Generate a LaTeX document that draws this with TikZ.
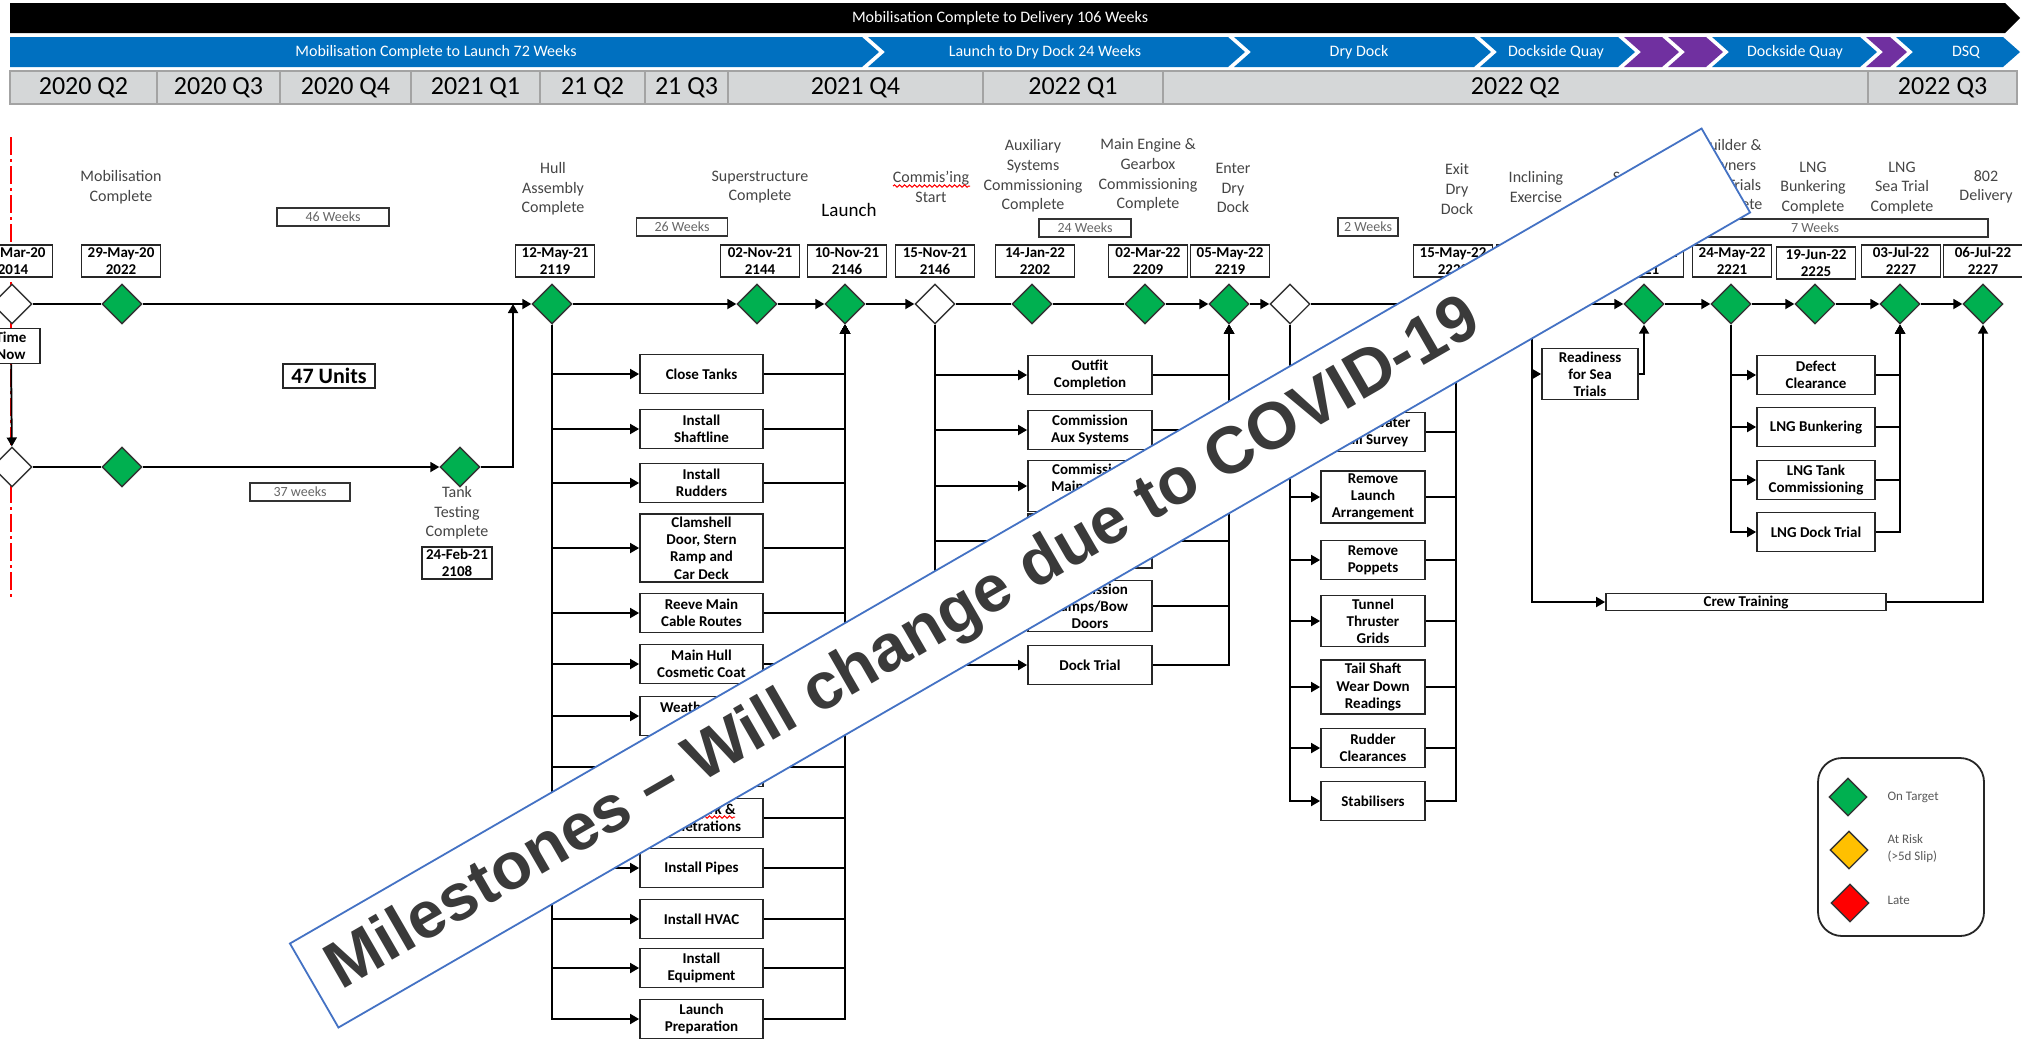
\documentclass[tikz,border=0pt]{standalone}
\usepackage{fontspec}
\setmainfont{Carlito}
\newfontfamily\bannerfont{Liberation Sans}
\usetikzlibrary{shapes.geometric, arrows.meta, decorations.pathmorphing}

\definecolor{msgreen}{HTML}{00B050}
\definecolor{riskamber}{HTML}{FFC000}
\definecolor{latered}{HTML}{FF0000}
\definecolor{barblue}{HTML}{0070C0}
\definecolor{barpurple}{HTML}{7030A0}
\definecolor{qgray}{HTML}{D5D7D8}
\definecolor{qline}{HTML}{A3A3A3}
\definecolor{labgray}{HTML}{454545}
\definecolor{bannerblue}{HTML}{4472C4}
\definecolor{bannertext}{HTML}{3A3A3A}

\begin{document}
\begin{tikzpicture}[x=0.5pt, y=-0.5pt, line width=0.9pt,
  >={Triangle[length=4.5pt,width=5pt]},
  ms/.style={diamond, draw=black!80, line width=0.7pt, fill=msgreen, minimum width=20pt, minimum height=20pt, inner sep=0pt},
  msopen/.style={ms, fill=white},
  datebox/.style={draw=black!85, fill=white, line width=0.9pt, align=center, minimum width=39.5pt, minimum height=16pt, inner sep=0.5pt, font=\bfseries\fontsize{7.5}{8.4}\selectfont},
  mlabel/.style={align=center, text=labgray, font=\fontsize{8}{9.8}\selectfont},
  weeks/.style={draw=black!80, fill=white, line width=0.7pt, text=black!60, minimum height=9pt, inner sep=0pt, font=\fontsize{7}{7}\selectfont},
  task/.style={draw=black!85, fill=white, line width=0.9pt, align=center, minimum height=19.5pt, inner sep=1.5pt, font=\bfseries\fontsize{7.5}{8.6}\selectfont},
  hulltask/.style={task, minimum width=61.5pt},
  comtask/.style={task, minimum width=62pt},
  docktask/.style={task, minimum width=52pt},
  lngtask/.style={task, minimum width=59pt},
  qcell/.style={draw=qline, fill=qgray, line width=0.8pt, minimum height=16.5pt, inner sep=0pt, font=\fontsize{13}{13}\selectfont},
  bartext/.style={text=white, inner sep=0pt, font=\fontsize{8}{8}\selectfont},
  legtext/.style={anchor=west, align=left, text=black!65, font=\fontsize{6.5}{8.5}\selectfont},
  timenow/.style={red, line width=0.8pt, dash pattern=on 9pt off 2pt on 1.5pt off 2pt},
  squiggle/.style={red, line width=0.5pt, decorate, decoration={snake, amplitude=0.6pt, segment length=2.5pt}},
  banner/.style={draw=bannerblue, fill=white, line width=0.9pt, rotate=30, minimum width=815pt, minimum height=48.5pt, inner sep=0pt},
  bannertxt/.style={anchor=west, rotate=30, inner sep=0pt, text=bannertext, font=\bannerfont\bfseries\fontsize{33}{33}\selectfont}]

\useasboundingbox (0,0) rectangle (2022,1040);
\clip (0,0) rectangle (2022,1040);
\fill[white] (0,0) rectangle (2022,1040);

\fill[black] (10,3) -- (2005,3) -- (2020,18) -- (2005,33) -- (10,33) -- cycle;
\node[bartext] (hdr) at (1000,18) {Mobilisation Complete to Delivery 106 Weeks};

\fill[barblue] (10,37) -- (862,37) -- (879,52) -- (862,67) -- (10,67) -- cycle;
\fill[barblue] (868,37) -- (1228,37) -- (1245,52) -- (1228,67) -- (868,67) -- (885,52) -- cycle;
\fill[barblue] (1234,37) -- (1474,37) -- (1491,52) -- (1474,67) -- (1234,67) -- (1251,52) -- cycle;
\fill[barblue] (1480,37) -- (1618,37) -- (1635,52) -- (1618,67) -- (1480,67) -- (1497,52) -- cycle;
\fill[barpurple] (1624,37) -- (1662,37) -- (1679,52) -- (1662,67) -- (1624,67) -- (1641,52) -- cycle;
\fill[barpurple] (1668,37) -- (1706,37) -- (1723,52) -- (1706,67) -- (1668,67) -- (1685,52) -- cycle;
\fill[barblue] (1712,37) -- (1860,37) -- (1877,52) -- (1860,67) -- (1712,67) -- (1729,52) -- cycle;
\fill[barpurple] (1866,37) -- (1890,37) -- (1907,52) -- (1890,67) -- (1866,67) -- (1883,52) -- cycle;
\fill[barblue] (1896,37) -- (2003,37) -- (2020,52) -- (2003,67) -- (1896,67) -- (1913,52) -- cycle;
\node[bartext] (s1) at (436,52) {Mobilisation Complete to Launch 72 Weeks};
\node[bartext] (s2) at (1045,52) {Launch to Dry Dock 24 Weeks};
\node[bartext] (s3) at (1359,52) {Dry Dock};
\node[bartext] (s4) at (1556,52) {Dockside Quay};
\node[bartext] (s5) at (1795,52) {Dockside Quay};
\node[bartext] (s6) at (1966,52) {DSQ};

\node[qcell, minimum width=73.5pt] (q1) at (83.5,87.5) {2020 Q2};
\node[qcell, minimum width=61.5pt] (q2) at (218.5,87.5) {2020 Q3};
\node[qcell, minimum width=65.5pt] (q3) at (345.5,87.5) {2020 Q4};
\node[qcell, minimum width=64.5pt] (q4) at (475.5,87.5) {2021 Q1};
\node[qcell, minimum width=52.5pt] (q5) at (592.5,87.5) {21 Q2};
\node[qcell, minimum width=41.5pt] (q6) at (686.5,87.5) {21 Q3};
\node[qcell, minimum width=127.5pt] (q7) at (855.5,87.5) {2021 Q4};
\node[qcell, minimum width=90pt] (q8) at (1073,87.5) {2022 Q1};
\node[qcell, minimum width=352.5pt] (q9) at (1515.5,87.5) {2022 Q2};
\node[qcell, minimum width=74.5pt] (q10) at (1942.5,87.5) {2022 Q3};

\coordinate (tn1) at (11,137);
\coordinate (tn2) at (11,600);
\draw[timenow] (tn1) -- (tn2);

\node[mlabel] (n1) at (121,187) {Mobilisation\\Complete};
\node[mlabel] (n2) at (553,189) {Hull\\Assembly\\Complete};
\node[mlabel] (n3) at (760,187) {Superstructure\\Complete};
\node[mlabel, text=black, font=\fontsize{9.5}{9.5}\selectfont] (n4) at (849,210) {Launch};
\node[mlabel] (n5) at (931,187) {Commis'ing\\Start};
\node[mlabel] (n6) at (1033,176) {Auxiliary\\Systems\\Commissioning\\Complete};
\node[mlabel] (n7) at (1148,175) {Main Engine \&\\Gearbox\\Commissioning\\Complete};
\node[mlabel] (n8) at (1233,188) {Enter\\Dry\\Dock};
\node[mlabel] (n10) at (1457,189) {Exit\\Dry\\Dock};
\node[mlabel] (n11) at (1536,187) {Inclining\\Exercise};
\node[mlabel] (n12) at (1643,187) {Sea Trials\\Start};
\node[mlabel] (n13) at (1731,176) {Builder \&\\Owners\\Sea Trials\\Complete};
\node[mlabel] (n14) at (1813,188) {LNG\\Bunkering\\Complete};
\node[mlabel] (n15) at (1902,188) {LNG\\Sea Trial\\Complete};
\node[mlabel] (n16) at (1986,187) {802\\Delivery};
\node[mlabel] (nt) at (457,513) {Tank\\Testing\\Complete};
\draw[squiggle] (893,186) -- (970,186);

\node[weeks, minimum width=56pt] (w46) at (333,217) {46 Weeks};
\node[weeks, minimum width=50pt] (w37) at (300,492) {37 weeks};
\node[weeks, minimum width=45.5pt] (w26) at (682,227) {26 Weeks};
\node[weeks, minimum width=46pt] (w24) at (1085,228) {24 Weeks};
\node[weeks, minimum width=30pt] (w2) at (1368,227) {2 Weeks};
\node[weeks, minimum width=173pt] (w7) at (1815,228) {7 Weeks};
\node[draw=black!85, line width=0.8pt, minimum width=46pt, minimum height=12pt, inner sep=0pt, font=\bfseries\fontsize{11}{11}\selectfont] (units) at (329,376) {47 Units};

\node[datebox] (b0) at (13,261) {30-Mar-20\\2014};
\node[datebox] (b1) at (121,261) {29-May-20\\2022};
\node[datebox] (b2) at (555,261) {12-May-21\\2119};
\node[datebox] (b3) at (760,261) {02-Nov-21\\2144};
\node[datebox] (b4) at (847,261) {10-Nov-21\\2146};
\node[datebox] (b5) at (935,261) {15-Nov-21\\2146};
\node[datebox] (b6) at (1035,261) {14-Jan-22\\2202};
\node[datebox] (b7) at (1148,261) {02-Mar-22\\2209};
\node[datebox] (b8) at (1230,261) {05-May-22\\2219};
\node[datebox] (b10) at (1453,261) {15-May-22\\2220};
\node[datebox] (b11) at (1536,261) {18-May-22\\2220};
\node[datebox] (b12) at (1644,261) {20-May-22\\2221};
\node[datebox] (b13) at (1732,261) {24-May-22\\2221};
\node[datebox] (b14) at (1816,263) {19-Jun-22\\2225};
\node[datebox] (b15) at (1901,261) {03-Jul-22\\2227};
\node[datebox] (b16) at (1983,261) {06-Jul-22\\2227};
\node[datebox, minimum width=35pt] (bt) at (457,563) {24-Feb-21\\2108};
\node[datebox, minimum width=29pt, minimum height=17.5pt] (now) at (11,346) {Time\\Now};

\node[msopen] (m0) at (12,304) {};
\node[ms] (m1) at (122,304) {};
\node[ms] (m2) at (552,304) {};
\node[ms] (m3) at (757,304) {};
\node[ms] (m4) at (845,304) {};
\node[msopen] (m5) at (935,304) {};
\node[ms] (m6) at (1032,304) {};
\node[ms] (m7) at (1145,304) {};
\node[ms] (m8) at (1229,304) {};
\node[msopen] (m9) at (1290,304) {};
\node[ms] (m10) at (1456,304) {};
\node[ms] (m11) at (1532,304) {};
\node[ms] (m12) at (1644,304) {};
\node[ms] (m13) at (1731,304) {};
\node[ms] (m14) at (1815,304) {};
\node[ms] (m15) at (1900,304) {};
\node[ms] (m16) at (1983,304) {};
\node[msopen] (l0) at (12,467) {};
\node[ms] (l1) at (122,467) {};
\node[ms] (l2) at (460,467) {};
\coordinate (j1) at (513,304);

\node[hulltask] (t1) at (701.5,374) {Close Tanks};
\node[hulltask] (t2) at (701.5,429) {Install\\Shaftline};
\node[hulltask] (t3) at (701.5,483) {Install\\Rudders};
\node[hulltask] (t4) at (701.5,548) {Clamshell\\Door, Stern\\Ramp and\\Car Deck};
\node[hulltask] (t5) at (701.5,613) {Reeve Main\\Cable Routes};
\node[hulltask] (t6) at (701.5,664) {Main Hull\\Cosmetic Coat};
\node[hulltask] (t7) at (701.5,716) {Weathertight\\Closures};
\node[hulltask] (t8) at (701.5,767) {Install\\Insulation};
\node[hulltask] (t9) at (701.5,818) {Hotwork \&\\Penetrations};
\node[hulltask] (t10) at (701.5,868) {Install Pipes};
\node[hulltask] (t11) at (701.5,919) {Install HVAC};
\node[hulltask] (t12) at (701.5,968) {Install\\Equipment};
\node[hulltask] (t13) at (701.5,1019) {Launch\\Preparation};
\draw[squiggle] (668,817) -- (735,817);

\node[comtask] (c1) at (1090,375) {Outfit\\Completion};
\node[comtask] (c2) at (1090,430) {Commission\\Aux Systems};
\node[comtask] (c3) at (1090,486) {Commission\\Main Engine\\\& Gearbox};
\node[comtask] (c4) at (1090,541) {Commission\\Electrical\\Systems};
\node[comtask] (c5) at (1090,606) {Commission\\Ramps/Bow\\Doors};
\node[comtask] (c6) at (1090,665) {Dock Trial};

\node[docktask] (d1) at (1373,432) {Underwater\\Hull Survey};
\node[docktask] (d2) at (1373,497) {Remove\\Launch\\Arrangement};
\node[docktask] (d3) at (1373,560) {Remove\\Poppets};
\node[docktask] (d4) at (1373,621) {Tunnel\\Thruster\\Grids};
\node[docktask] (d5) at (1373,687) {Tail Shaft\\Wear Down\\Readings};
\node[docktask] (d6) at (1373,748) {Rudder\\Clearances};
\node[docktask] (d7) at (1373,801) {Stabilisers};

\node[task, minimum width=48pt] (ready) at (1590,374) {Readiness\\for Sea\\Trials};
\node[task, minimum width=140pt, minimum height=8.5pt, inner sep=0pt] (crew) at (1746,602) {Crew Training};

\node[lngtask] (g1) at (1816,375) {Defect\\Clearance};
\node[lngtask] (g2) at (1816,427) {LNG Bunkering};
\node[lngtask] (g3) at (1816,480) {LNG Tank\\Commissioning};
\node[lngtask] (g4) at (1816,532) {LNG Dock Trial};

\draw (m0) -- (m1);
\draw[->] (m1) -- (m2);
\draw[->] (m2) -- (m3);
\draw[->] (m3) -- (m4);
\draw[->] (m4) -- (m5);
\draw (m5) -- (m6);
\draw (m6) -- (m7);
\draw[->] (m7) -- (m8);
\draw[->] (m8) -- (m9);
\draw[->] (m9) -- (m10);
\draw[->] (m10) -- (m11);
\draw[->] (m11) -- (m12);
\draw[->] (m12) -- (m13);
\draw[->] (m13) -- (m14);
\draw[->] (m14) -- (m15);
\draw[->] (m15) -- (m16);
\draw[->] (now) -- (l0);
\draw (l0) -- (l1);
\draw[->] (l1) -- (l2);
\draw[->] (l2) -| (j1);

\draw[->] (m2) |- (t1);
\draw[->] (m2) |- (t2);
\draw[->] (m2) |- (t3);
\draw[->] (m2) |- (t4);
\draw[->] (m2) |- (t5);
\draw[->] (m2) |- (t6);
\draw[->] (m2) |- (t7);
\draw[->] (m2) |- (t8);
\draw[->] (m2) |- (t9);
\draw[->] (m2) |- (t10);
\draw[->] (m2) |- (t11);
\draw[->] (m2) |- (t12);
\draw[->] (m2) |- (t13);
\draw[->] (t1) -| (m4);
\draw[->] (t2) -| (m4);
\draw[->] (t3) -| (m4);
\draw[->] (t4) -| (m4);
\draw[->] (t5) -| (m4);
\draw[->] (t6) -| (m4);
\draw[->] (t7) -| (m4);
\draw[->] (t8) -| (m4);
\draw[->] (t9) -| (m4);
\draw[->] (t10) -| (m4);
\draw[->] (t11) -| (m4);
\draw[->] (t12) -| (m4);
\draw[->] (t13) -| (m4);

\draw[->] (m5) |- (c1);
\draw[->] (m5) |- (c2);
\draw[->] (m5) |- (c3);
\draw[->] (m5) |- (c4);
\draw[->] (m5) |- (c5);
\draw[->] (m5) |- (c6);
\draw[->] (c1) -| (m8);
\draw[->] (c2) -| (m8);
\draw[->] (c3) -| (m8);
\draw[->] (c4) -| (m8);
\draw[->] (c5) -| (m8);
\draw[->] (c6) -| (m8);

\draw[->] (m9) |- (d1);
\draw[->] (m9) |- (d2);
\draw[->] (m9) |- (d3);
\draw[->] (m9) |- (d4);
\draw[->] (m9) |- (d5);
\draw[->] (m9) |- (d6);
\draw[->] (m9) |- (d7);
\draw[->] (d1) -| (m10);
\draw[->] (d2) -| (m10);
\draw[->] (d3) -| (m10);
\draw[->] (d4) -| (m10);
\draw[->] (d5) -| (m10);
\draw[->] (d6) -| (m10);
\draw[->] (d7) -| (m10);

\draw[->] (m11) |- (ready);
\draw[->] (ready) -| (m12);
\draw[->] (m11) |- (crew);
\draw[->] (crew) -| (m16);

\draw[->] (m13) |- (g1);
\draw[->] (m13) |- (g2);
\draw[->] (m13) |- (g3);
\draw[->] (m13) |- (g4);
\draw[->] (g1) -| (m15);
\draw[->] (g2) -| (m15);
\draw[->] (g3) -| (m15);
\draw[->] (g4) -| (m15);

\node[draw=black!85, line width=0.9pt, rounded corners=12pt, minimum width=83pt, minimum height=89pt] (leg) at (1901,847) {};
\node[ms, minimum width=19pt, minimum height=19pt] (k1) at (1848,797) {};
\node[ms, fill=riskamber, minimum width=19pt, minimum height=19pt] (k2) at (1849,850) {};
\node[ms, fill=latered, minimum width=19pt, minimum height=19pt] (k3) at (1850,903) {};
\node[legtext] (k1t) at (1880,797) {On Target};
\node[legtext] (k2t) at (1880,849) {At Risk\\(>5d Slip)};
\node[legtext] (k3t) at (1880,900) {Late};

\node[banner] (ban) at (1020,578) {};
\node[bannertxt] (bantxt) at (332,976) {Milestones – Will change due to COVID-19};
\end{tikzpicture}
\end{document}
